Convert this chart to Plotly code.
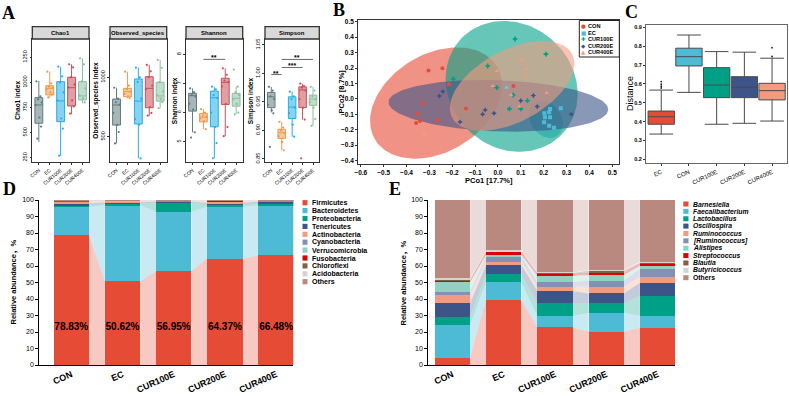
import numpy as np
import plotly.graph_objects as go

W, H = 789, 396
SANS = "Liberation Sans, Arial, Noto Sans CJK SC, sans-serif"
SERIF = "Liberation Serif, Times New Roman, serif"
SYM = "DejaVu Sans, sans-serif"

groups = ["CON", "EC", "CUR100E", "CUR200E", "CUR400E"]

# ---------------- Panel A: alpha diversity  [lower whisker, Q1, median, Q3, upper whisker]
chao1_box = [[409, 593, 775, 848, 1014], [848, 875, 941, 967, 1107], [267, 609, 815, 1007, 1156],
             [682, 765, 947, 1051, 1180], [792, 825, 865, 1007, 1240]]
obs_box = [[444, 598, 767, 817, 912], [823, 837, 879, 907, 1047], [318, 607, 800, 986, 1081],
           [677, 744, 907, 1005, 1104], [739, 800, 843, 958, 1146]]
shannon_box = [[5.32, 6.05, 6.58, 6.66, 6.83], [5.43, 5.68, 5.84, 5.97, 6.12], [4.43, 5.51, 6.51, 6.74, 6.89],
               [5.19, 6.28, 7.04, 7.18, 7.52], [5.94, 6.22, 6.49, 6.66, 6.89]]
simpson_box = [[0.9316, 0.940, 0.959, 0.9667, 0.9765], [0.865, 0.886, 0.896, 0.902, 0.915],
               [0.889, 0.921, 0.941, 0.959, 0.968], [0.919, 0.940, 0.971, 0.9765, 0.982],
               [0.908, 0.944, 0.955, 0.962, 0.9765]]

chao1_pts = [[1010, 860, 830, 800, 775, 650, 560, 440], [1107, 990, 960, 945, 930, 900, 880, 850],
             [1156, 1060, 1000, 900, 820, 640, 540, 270], [1180, 1150, 1050, 980, 950, 820, 760, 690],
             [1240, 1180, 1010, 940, 870, 840, 800]]
obs_pts = [[912, 820, 790, 770, 700, 600, 540, 444], [1047, 930, 900, 880, 860, 840, 825],
           [1081, 1000, 960, 820, 650, 600, 318], [1104, 1050, 1000, 930, 900, 750, 700, 677],
           [1146, 1080, 960, 880, 850, 820, 790, 740]]
shannon_pts = [[6.83, 6.7, 6.6, 6.55, 6.3, 6.1, 5.32, 5.14], [6.12, 6.0, 5.9, 5.85, 5.8, 5.7, 5.43],
               [6.89, 6.8, 6.6, 6.5, 6.0, 5.5, 4.95, 4.43], [7.52, 7.3, 7.1, 7.05, 6.9, 6.3, 5.5, 5.19],
               [7.48, 6.89, 6.7, 6.6, 6.45, 6.3, 6.0, 5.94]]
simpson_pts = [[0.9765, 0.97, 0.96, 0.955, 0.945, 0.935, 0.93, 0.871], [0.915, 0.905, 0.90, 0.895, 0.89, 0.88, 0.865],
               [0.968, 0.96, 0.955, 0.94, 0.93, 0.91, 0.889], [0.982, 0.978, 0.975, 0.97, 0.955, 0.94, 0.919, 0.851],
               [0.9765, 0.97, 0.96, 0.955, 0.95, 0.94, 0.92, 0.908]]

# significance brackets (metric index, from group, to group, height, label)
sig_metric = [2, 3, 3, 3]
sig_from = [1, 0, 1, 1]
sig_to = [3, 1, 3, 4]
sig_y = [7.83, 0.998, 1.0105, 1.0246]
sig_label = ["**", "**", "***", "**"]

# ---------------- Panel B: PCoA
pcoa_con_x = [-0.304, -0.243, -0.214, -0.329, -0.353, -0.341, -0.358, -0.263, -0.14, 0.068]
pcoa_con_y = [0.183, 0.198, 0.094, -0.029, -0.096, -0.143, -0.156, -0.138, -0.063, 0.084]
pcoa_ec_x = [0.228, 0.275, 0.203, 0.224, 0.206, 0.228, 0.202, 0.224, 0.245, 0.038]
pcoa_ec_y = [-0.066, -0.061, -0.093, -0.087, -0.119, -0.119, -0.151, -0.174, -0.187, 0.075]
pcoa_100_x = [-0.195, -0.045, -0.005, 0.075, 0.21, 0.067, 0.129, 0.05, 0.1]
pcoa_100_y = [0.129, 0.213, 0.073, 0.388, 0.29, 0.025, -0.012, -0.065, -0.065]
pcoa_200_x = [-0.256, -0.241, -0.166, -0.067, -0.056, -0.017, 0.1, 0.155, 0.172, 0.321]
pcoa_200_y = [0.019, 0.047, -0.15, -0.1, -0.072, -0.093, -0.012, 0.021, -0.05, -0.1]
pcoa_400_x = [-0.323, -0.005, -0.023, 0.104, 0.123, 0.122, 0.038, 0.057, 0.094, 0.213]
pcoa_400_y = [-0.229, 0.181, 0.084, 0.252, 0.194, 0.14, 0.073, 0.025, -0.05, 0.04]

# confidence ellipses: centre, semi-axes (x units), tilt (deg, on screen)
ell_cx = [-0.271, 0.21, 0.060, 0.002, 0.062]
ell_cy = [-0.027, -0.133, 0.081, -0.045, 0.084]
ell_a = [0.311, 0.0875, 0.304, 0.481, 0.297]
ell_b = [0.214, 0.067, 0.270, 0.112, 0.157]
ell_deg = [31, -55, 137.3, -2, 28]

# ---------------- Panel C: distances
dist_groups = ["EC", "CON", "CUR100E", "CUR200E", "CUR400E"]
dist_box = [[0.334, 0.386, 0.426, 0.456, 0.567], [0.555, 0.695, 0.744, 0.789, 0.859],
            [0.386, 0.527, 0.594, 0.686, 0.771], [0.391, 0.527, 0.582, 0.638, 0.768],
            [0.403, 0.515, 0.564, 0.603, 0.736]]
dist_out_group = [0, 0, 0, 0, 4, 4]
dist_out_val = [0.578, 0.588, 0.598, 0.612, 0.745, 0.792]

# ---------------- Panel D: phylum level (%)
phyla = ["Firmicutes", "Bacteroidetes", "Proteobacteria", "Tenericutes", "Actinobacteria", "Cyanobacteria",
         "Verrucomicrobia", "Fusobacteria", "Chloroflexi", "Acidobacteria", "Others"]
phylum_CON = [78.83, 17.0, 1.1, 0.9, 1.2, 0.2, 0.1, 0.05, 0.03, 0.02, 0.57]
phylum_EC = [50.62, 46.3, 1.0, 0.7, 0.5, 0.2, 0.2, 0.05, 0.03, 0.02, 0.38]
phylum_CUR100E = [56.95, 36.0, 5.5, 0.6, 0.3, 0.1, 0.2, 0.05, 0.03, 0.02, 0.25]
phylum_CUR200E = [64.37, 31.6, 1.3, 0.9, 0.8, 0.2, 0.2, 0.05, 0.03, 0.02, 0.53]
phylum_CUR400E = [66.48, 30.4, 1.2, 1.0, 0.3, 0.1, 0.1, 0.05, 0.03, 0.02, 0.32]

# ---------------- Panel E: genus level (%)
genera = ["Barnesiella", "Faecalibacterium", "Lactobacillus", "Oscillospira", "Ruminococcus", "[Ruminococcus]",
          "Alistipes", "Streptococcus", "Blautia", "Butyricicoccus", "Others"]
genus_CON = [4.4, 19.8, 5.1, 8.1, 5.0, 2.0, 5.7, 1.4, 0.5, 0.8, 47.2]
genus_EC = [39.4, 10.7, 4.9, 5.6, 2.0, 3.1, 1.0, 2.0, 0.3, 0.4, 30.6]
genus_CUR100E = [22.8, 6.9, 7.7, 7.4, 2.7, 2.6, 4.0, 1.5, 0.2, 0.3, 43.9]
genus_CUR200E = [20.2, 11.5, 5.7, 6.0, 4.1, 3.7, 3.3, 1.4, 1.3, 0.3, 42.5]
genus_CUR400E = [22.6, 7.1, 12.3, 7.9, 3.6, 4.7, 2.0, 1.4, 0.3, 0.7, 37.4]

# ---------------- styles
alpha_colors = ["#5E7B80", "#EE9A4D", "#23AEE5", "#C8505A", "#8DBF9F"]
npg = ["#E64B35", "#4DBBD5", "#00A087", "#3C5488", "#F39B7F"]
tax_colors = ["#E64B35", "#4DBBD5", "#00A087", "#3C5488", "#F39B7F", "#8491B4",
              "#91D1C2", "#DC0000", "#7E6148", "#D4D4D4", "#B98980"]
dist_colors = ["#E64B35", "#4DBBD5", "#00A087", "#3C5488", "#F39B7F"]
jit = [-0.22, 0.14, -0.06, 0.27, -0.3, 0.05, 0.2, -0.14, 0.31]


def rgba(hexc, a):
    h = hexc.lstrip('#')
    return f"rgba({int(h[0:2], 16)},{int(h[2:4], 16)},{int(h[4:6], 16)},{a})"


def refs(n):
    return ("x" if n == 1 else f"x{n}", "y" if n == 1 else f"y{n}")


def lkeys(n):
    return ("xaxis" if n == 1 else f"xaxis{n}", "yaxis" if n == 1 else f"yaxis{n}")


def dx(a, b):
    return [a / W, b / W]


def dy(top, bot):
    return [1 - bot / H, 1 - top / H]


fig = go.Figure()
shapes = []
ann = []
axes = {}


def text(x, y, s, size, bold=False, italic=False, color="#000", angle=0, xanchor="center",
         yanchor="middle", family=SANS, xref="paper", yref="paper", yshift=0):
    if xref == "paper":
        x = x / W
    if yref == "paper":
        y = 1 - y / H
    ann.append(dict(x=x, y=y, xref=xref, yref=yref, text=s, showarrow=False, textangle=angle,
                    xanchor=xanchor, yanchor=yanchor, yshift=yshift,
                    font=dict(size=size, family=family, color=color,
                              weight="bold" if bold else "normal",
                              style="italic" if italic else "normal")))


def base_axis(**kw):
    d = dict(showgrid=False, zeroline=False, automargin=False, ticks="outside", ticklen=2,
             tickwidth=1, tickcolor="#333", showline=True, linecolor="#333", linewidth=1,
             tickfont=dict(family=SANS, size=6, color="#000"))
    d.update(kw)
    return d


# ================= Panel A =================
a_metrics = [("Chao1", "Chao1 index", chao1_box, chao1_pts, [204, 1432], [250, 500, 750, 1000, 1250], ""),
             ("Observed_species", "Observed_species index", obs_box, obs_pts, [285, 1322], [500, 1000], ""),
             ("Shannon", "Shannon index", shannon_box, shannon_pts, [4.29, 8.53], [5, 6, 7, 8], ""),
             ("Simpson", "Simpson index", simpson_box, simpson_pts, [0.844, 1.0605],
              [0.85, 0.90, 0.95, 1.00, 1.05], ".2f")]
a_xpx = [(32.3, 89.0), (110.0, 166.7), (186.0, 242.7), (265.0, 319.3)]
a_title_x = [18.0, 96.0, 174.5, 250.5]
A_TOP, A_BOT, A_HDR = 39.0, 162.3, 26.7

for m, (hdr, ytitle, boxes, pts, yr, ytv, fmt) in enumerate(a_metrics):
    n = m + 1
    xr, yr_ = refs(n)
    for g in range(5):
        lo, q1, med, q3, hi = boxes[g]
        col = alpha_colors[g]
        fig.add_trace(go.Box(x=[g], lowerfence=[lo], q1=[q1], median=[med], q3=[q3], upperfence=[hi],
                             width=0.72, whiskerwidth=0, fillcolor=rgba(col, 0.55),
                             line=dict(color=col, width=1), boxpoints=False, xaxis=xr, yaxis=yr_,
                             showlegend=False, hoverinfo="skip"))
        vals = pts[g]
        fig.add_trace(go.Scatter(x=[g + jit[k % len(jit)] for k in range(len(vals))], y=vals,
                                 mode="markers", marker=dict(size=2.2, color=col),
                                 xaxis=xr, yaxis=yr_, showlegend=False, hoverinfo="skip"))
    kx, ky = lkeys(n)
    axes[kx] = base_axis(domain=dx(*a_xpx[m]), range=[-0.6, 4.6], tickvals=list(range(5)), ticktext=groups,
                         tickangle=-40, tickfont=dict(family=SANS, size=5, color="#000"), anchor=yr_,
                         mirror=True, linewidth=1.3)
    axes[ky] = base_axis(domain=dy(A_TOP, A_BOT), range=yr, tickvals=ytv, tickangle=-90, anchor=xr,
                         mirror=True, linewidth=1.3, tickformat=fmt, ticklen=1.5,
                         tickfont=dict(family=SANS, size=5.6, color="#000"))
    x0, x1 = dx(*a_xpx[m])
    shapes.append(dict(type="rect", xref="paper", yref="paper", x0=x0, x1=x1, y0=1 - A_TOP / H,
                       y1=1 - A_HDR / H, fillcolor="#D9D9D9", line=dict(color="#333", width=1.3)))
    text((a_xpx[m][0] + a_xpx[m][1]) / 2, (A_TOP + A_HDR) / 2, hdr, 6, bold=True)
    text(a_title_x[m], (A_TOP + A_BOT) / 2, ytitle, 6.5, bold=True, angle=-90)

for i in range(len(sig_metric)):
    xr, yr_ = refs(sig_metric[i] + 1)
    shapes.append(dict(type="line", xref=xr, yref=yr_, x0=sig_from[i], x1=sig_to[i], y0=sig_y[i], y1=sig_y[i],
                       line=dict(color="#444", width=0.8)))
    text((sig_from[i] + sig_to[i]) / 2, sig_y[i], sig_label[i], 7, bold=True, xref=xr, yref=yr_, yshift=1.5)

# ================= Panel B =================
b_xr, b_yr = [-0.611, 0.531], [-0.424, 0.511]
b_xpx, b_ypx = (358.3, 619.3), (20.0, 164.3)
K = ((b_xpx[1] - b_xpx[0]) / (b_xr[1] - b_xr[0])) / ((b_ypx[1] - b_ypx[0]) / (b_yr[1] - b_yr[0]))
t = np.linspace(0, 2 * np.pi, 140)
for i in range(5):
    th = np.deg2rad(ell_deg[i])
    ex = ell_a[i] * np.cos(t) * np.cos(th) - ell_b[i] * np.sin(t) * np.sin(th)
    ey = (ell_a[i] * np.cos(t) * np.sin(th) + ell_b[i] * np.sin(t) * np.cos(th)) * K
    fig.add_trace(go.Scatter(x=ell_cx[i] + ex, y=ell_cy[i] + ey, mode="lines", fill="toself",
                             fillcolor=rgba(npg[i], 0.6), line=dict(width=0), xaxis="x5", yaxis="y5",
                             showlegend=False, hoverinfo="skip"))
pcoa_sets = [(pcoa_con_x, pcoa_con_y, "circle"), (pcoa_ec_x, pcoa_ec_y, "square"),
             (pcoa_100_x, pcoa_100_y, "cross"), (pcoa_200_x, pcoa_200_y, "star-diamond"),
             (pcoa_400_x, pcoa_400_y, "triangle-up")]
for i, (px, py, sym) in enumerate(pcoa_sets):
    fig.add_trace(go.Scatter(x=px, y=py, mode="markers", marker=dict(symbol=sym, size=4, color=npg[i],
                                                                        line=dict(width=0)),
                             xaxis="x5", yaxis="y5", showlegend=False, hoverinfo="skip"))
axes["xaxis5"] = base_axis(domain=dx(*b_xpx), range=b_xr, dtick=0.1, tick0=0, tickformat=".1f", anchor="y5",
                           mirror=True, linewidth=1.2, tickfont=dict(family=SANS, size=6.5, color="#000", weight="bold"))
axes["yaxis5"] = base_axis(domain=dy(*b_ypx), range=b_yr, dtick=0.1, tick0=0, tickformat=".1f", anchor="x5",
                           mirror=True, linewidth=1.2, tickfont=dict(family=SANS, size=6.5, color="#000", weight="bold"))
text((b_xpx[0] + b_xpx[1]) / 2, 180, "PCo1 [17.7%]", 7.5, bold=True)
text(341.5, 92, "PCo2 [8.7%]", 7.5, bold=True, angle=-90)
shapes.append(dict(type="rect", xref="paper", yref="paper", x0=579.3 / W, x1=619.3 / W, y0=1 - 57 / H,
                   y1=1 - 20.5 / H, fillcolor="white", line=dict(color="#222", width=1)))
leg_syms = ["\u25CF", "\u25A0", "\u271A", "\u25C6", "\u25B2"]
for i, g in enumerate(groups):
    yy = 26.3 + i * 6.4
    text(583.2, yy, leg_syms[i], 5.5, color=npg[i], family=SYM)
    text(586.0, yy, g, 5.6, bold=True, xanchor="left")

# ================= Panel C =================
for i in range(5):
    lo, q1, med, q3, hi = dist_box[i]
    fig.add_trace(go.Box(x=[i], lowerfence=[lo], q1=[q1], median=[med], q3=[q3], upperfence=[hi], width=0.95,
                         whiskerwidth=0.9, fillcolor=dist_colors[i], line=dict(color="#4a4a4a", width=1),
                         boxpoints=False, xaxis="x6", yaxis="y6", showlegend=False, hoverinfo="skip"))
fig.add_trace(go.Scatter(x=dist_out_group, y=dist_out_val, mode="markers", marker=dict(size=1.8, color="#222"),
                         xaxis="x6", yaxis="y6", showlegend=False, hoverinfo="skip"))
axes["xaxis6"] = base_axis(domain=dx(646, 787.3), range=[-0.55, 4.55], tickvals=list(range(5)), ticktext=dist_groups,
                           tickangle=-25, tickfont=dict(family=SANS, size=6, color="#000"), anchor="y6",
                           mirror=True, linecolor="#666")
axes["yaxis6"] = base_axis(domain=dy(25, 163.3), range=[0.179, 0.912], dtick=0.1, tick0=0, tickformat=".1f",
                           anchor="x6", mirror=True, linecolor="#666",
                           tickfont=dict(family=SANS, size=5.5, color="#000", weight="bold"))
text(630.0, 94, "Distance", 9, angle=-90)


# ================= Panels D & E =================
def alluvial(per_group, colors, xr, yr_, hw):
    vals = np.array(per_group, dtype=float).T
    tops = np.cumsum(vals, axis=0)
    bots = tops - vals
    ng = vals.shape[1]
    for k in range(vals.shape[0]):
        xs, ys = [], []
        for i in range(ng - 1):
            xs += [i + hw, i + hw, i + 1 - hw, i + 1 - hw, i + hw, None]
            ys += [bots[k, i], tops[k, i], tops[k, i + 1], bots[k, i + 1], bots[k, i], None]
        fig.add_trace(go.Scatter(x=xs, y=ys, mode="lines", fill="toself", fillcolor=rgba(colors[k], 0.3),
                                 line=dict(width=0), xaxis=xr, yaxis=yr_, showlegend=False, hoverinfo="skip"))
    for k in range(vals.shape[0]):
        fig.add_trace(go.Bar(x=list(range(ng)), y=vals[k], width=2 * hw, marker=dict(color=colors[k], line=dict(width=0)),
                             xaxis=xr, yaxis=yr_, showlegend=False, hoverinfo="skip"))
    return vals


phy_vals = alluvial([phylum_CON, phylum_EC, phylum_CUR100E, phylum_CUR200E, phylum_CUR400E], tax_colors, "x7", "y7", 0.345)
fig.add_trace(go.Scatter(x=list(range(5)), y=[22.5] * 5, mode="text", text=[f"{v:.2f}%" for v in phy_vals[0]],
                         textfont=dict(family=SANS, size=10, color="#000", weight="bold"),
                         xaxis="x7", yaxis="y7", showlegend=False, hoverinfo="skip"))
alluvial([genus_CON, genus_EC, genus_CUR100E, genus_CUR200E, genus_CUR400E], tax_colors, "x8", "y8", 0.344)

for n, xpx, xrng in [(7, (39.3, 293.3), [-0.625, 4.336]), (8, (428.3, 675.0), [-0.47, 4.34])]:
    xr, yr_ = refs(n)
    kx, ky = lkeys(n)
    axes[kx] = base_axis(domain=dx(*xpx), range=xrng, tickvals=list(range(5)), ticktext=groups, ticks="",
                         tickangle=-24, tickfont=dict(family=SANS, size=9, color="#000", weight="bold"),
                         anchor=yr_, linecolor="#000")
    axes[ky] = base_axis(domain=dy(200, 365), range=[0, 100], dtick=10, tick0=0, ticklen=3, anchor=xr,
                         linecolor="#000", tickcolor="#000", tickfont=dict(family=SANS, size=7, color="#000"))

text(13, 282.5, "Relative abundance\uFF0C%", 7.5, bold=True, angle=-90)
text(403, 282.5, "Relative abundance\uFF0C%", 7.5, bold=True, angle=-90)

for k, name in enumerate(phyla):
    yy = 202.7 + k * 7.9
    shapes.append(dict(type="rect", xref="paper", yref="paper", x0=302.5 / W, x1=307.5 / W,
                       y0=1 - (yy + 2.6) / H, y1=1 - (yy - 2.6) / H, fillcolor=tax_colors[k], line=dict(width=0)))
    text(310, yy, name, 7, bold=True, xanchor="left")
for k, name in enumerate(genera):
    yy = 204.0 + k * 7.37
    shapes.append(dict(type="rect", xref="paper", yref="paper", x0=683.3 / W, x1=688.5 / W,
                       y0=1 - (yy + 2.5) / H, y1=1 - (yy - 2.5) / H, fillcolor=tax_colors[k], line=dict(width=0)))
    text(691, yy, name, 6.8, bold=True, italic=(name != "Others"), xanchor="left")

# panel letters
for lab, lx, ly in [("A", 8.5, 12.5), ("B", 339, 10.5), ("C", 631.5, 11.5), ("D", 9, 189), ("E", 395, 189)]:
    text(lx, ly, lab, 18, bold=True, family=SERIF)

fig.update_layout(width=W, height=H, margin=dict(l=0, r=0, t=0, b=0), template="none",
                  paper_bgcolor="white", plot_bgcolor="white", showlegend=False,
                  barmode="stack", boxmode="overlay", shapes=shapes, annotations=ann,
                  font=dict(family=SANS, color="#000"), **axes)
fig.write_html("out.html")
